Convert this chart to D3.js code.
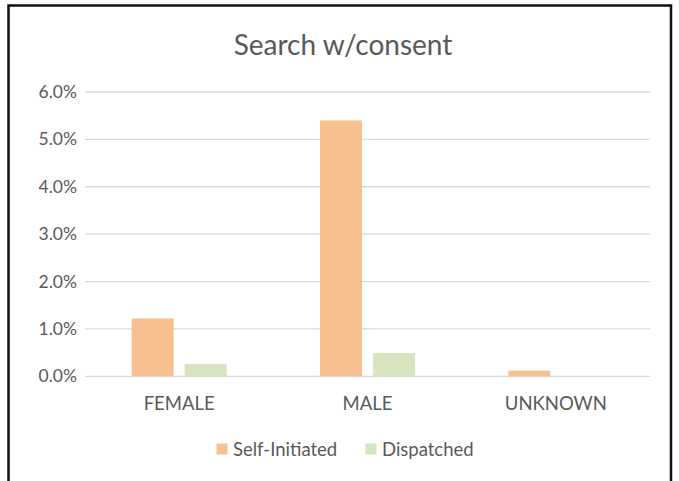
<!DOCTYPE html>
<html><head><meta charset="utf-8">
<script src="https://cdn.jsdelivr.net/npm/d3@7"></script>
<style>body{margin:0;background:#fff}svg{display:block}text{font-family:Lato,"Open Sans",sans-serif;fill:#595959}</style>
</head><body>
<svg id="c" width="679" height="481"></svg>
<script>
const title = "Search w/consent";
const categories = ["FEMALE", "MALE", "UNKNOWN"];
const seriesNames = ["Self-Initiated", "Dispatched"];
const selfInitiated = [0.0122, 0.0540, 0.0012];
const dispatched = [0.0026, 0.0049, 0.0];
const yTicks = [0, 0.01, 0.02, 0.03, 0.04, 0.05, 0.06];
const colors = ["#f8c08f", "#d7e4bd"];

const svg = d3.select("#c");
svg.append("rect").attr("width",679).attr("height",481).attr("fill","#fff");
svg.append("rect").attr("x",8.5).attr("y",5.5).attr("width",662.5).attr("height",500)
  .attr("fill","none").attr("stroke","#111").attr("stroke-width",2.5);

const pLeft = 85, pRight = 650, pTop = 92, pBottom = 376.3;
const y = d3.scaleLinear().domain([0, 0.06]).range([pBottom, pTop]);
const x0 = d3.scaleBand().domain(categories).range([pLeft, pRight]).padding(0);
const x1 = d3.scaleBand().domain(seriesNames).range([0, x0.bandwidth()]).paddingInner(0.2075).paddingOuter(0.88);

// gridlines
svg.append("g").selectAll("line").data(yTicks).join("line")
  .attr("x1", pLeft).attr("x2", pRight)
  .attr("y1", d => y(d)).attr("y2", d => y(d))
  .attr("stroke", "#d9d9d9").attr("stroke-width", 1.3);

// y axis labels
const yAxis = d3.axisLeft(y).tickValues(yTicks).tickFormat(d3.format(".1%")).tickSize(0).tickPadding(8);
const ga = svg.append("g").attr("transform", `translate(${pLeft},0)`).call(yAxis);
ga.select(".domain").remove();
ga.selectAll("text").attr("font-size", 17.5).attr("fill", "#595959").attr("font-family", "Lato");

// bars
const data = categories.map((c, i) => ({cat: c, vals: [selfInitiated[i], dispatched[i]]}));
const groups = svg.append("g").selectAll("g").data(data).join("g")
  .attr("transform", d => `translate(${x0(d.cat)},0)`);
groups.selectAll("rect").data(d => d.vals.map((v, j) => ({s: seriesNames[j], v, j})))
  .join("rect")
  .attr("x", d => x1(d.s)).attr("width", x1.bandwidth())
  .attr("y", d => y(d.v)).attr("height", d => y(0) - y(d.v))
  .attr("fill", d => colors[d.j]);

// x axis labels
const xAxis = d3.axisBottom(x0).tickSize(0).tickPadding(0);
const gx = svg.append("g").attr("transform", `translate(0,${pBottom})`).call(xAxis);
gx.select(".domain").remove();
gx.selectAll("text").attr("font-size", 18.5).attr("fill", "#595959").attr("font-family", "Lato")
  .attr("dy", null).attr("y", 34);

// title
svg.append("text").attr("x", 343).attr("y", 55).attr("text-anchor", "middle")
  .attr("font-size", 28).text(title);

// legend
const legX = [216.5, 365.5];
const leg = svg.append("g").selectAll("g").data(seriesNames).join("g")
  .attr("transform", (d, i) => `translate(${legX[i]},0)`);
leg.append("rect").attr("x", 0).attr("y", 443.5).attr("width", 11).attr("height", 11)
  .attr("fill", (d, i) => colors[i]);
leg.append("text").attr("x", 16.5).attr("y", 456).attr("font-size", 18.5).text(d => d);
</script>
</body></html>
